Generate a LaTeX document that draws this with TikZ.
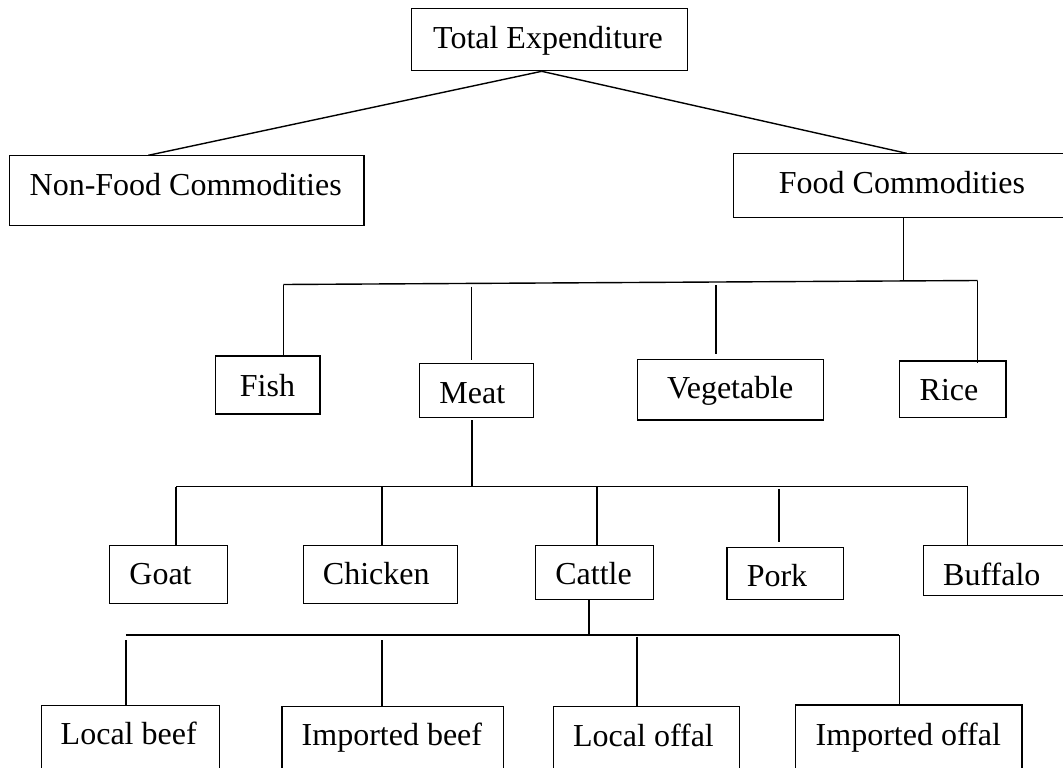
\documentclass[tikz,border=0pt]{standalone}
\usepackage{fontspec}
\setmainfont{Liberation Serif}
\usetikzlibrary{calc}
\begin{document}
\begin{tikzpicture}[x=1pt,y=-1pt,
  box/.style={draw=black,line width=1.1pt,rectangle,inner sep=0pt,outer sep=0pt},
  lbl/.style={inner sep=0pt,outer sep=0pt,anchor=base,font=\fontsize{32}{38}\selectfont},
  conn/.style={draw=black,line width=1.4pt}]
\useasboundingbox (0,0) rectangle (1063,768);
\fill[white] (0,0) rectangle (1063,768);
\clip (0,0) rectangle (1063,768);
% boxes
\node[box,minimum width=276pt,minimum height=62pt] (te) at (549.7,39.3) {};
\node[box,minimum width=354.7pt,minimum height=70.4pt] (nf) at (186.65,190.5) {};
\node[box,minimum width=330.7pt,minimum height=64pt] (fc) at (898.65,185.3) {};
\node[box,minimum width=104.7pt,minimum height=58pt] (fish) at (267.65,385) {};
\node[box,minimum width=114.4pt,minimum height=54pt] (meat) at (476.5,390.3) {};
\node[box,minimum width=186.4pt,minimum height=60.7pt] (veg) at (730.5,389.65) {};
\node[box,minimum width=106.7pt,minimum height=56.3pt] (rice) at (952.65,389.15) {};
\node[box,minimum width=118.4pt,minimum height=57.8pt] (goat) at (168.5,574.6) {};
\node[box,minimum width=154.4pt,minimum height=57.8pt] (chicken) at (380.5,574.6) {};
\node[box,minimum width=118.2pt,minimum height=54pt] (cattle) at (594.6,572.5) {};
\node[box,minimum width=116.8pt,minimum height=52pt] (pork) at (785.4,573.5) {};
\node[box,minimum width=140.3pt,minimum height=49.8pt] (buffalo) at (993.85,570.6) {};
\node[box,minimum width=178.5pt,minimum height=64.3pt] (lb) at (130.45,737.85) {};
\node[box,minimum width=221.7pt,minimum height=63.3pt] (ib) at (392.85,738.35) {};
\node[box,minimum width=185.9pt,minimum height=63.3pt] (lo) at (646.55,738.35) {};
\node[box,minimum width=226.7pt,minimum height=65pt] (io) at (908.65,737.5) {};
% labels
\node[lbl] (te-t) at (548,48.3) {Total Expenditure};
\node[lbl] (nf-t) at (185.7,195) {Non-Food Commodities};
\node[lbl] (fc-t) at (902,193.3) {Food Commodities};
\node[lbl] (fish-t) at (267.5,396) {Fish};
\node[lbl] (meat-t) at (472.3,403.3) {Meat};
\node[lbl] (veg-t) at (730.3,398.3) {Vegetable};
\node[lbl] (rice-t) at (949,400) {Rice};
\node[lbl] (goat-t) at (160.5,584) {Goat};
\node[lbl] (chicken-t) at (376.3,584) {Chicken};
\node[lbl] (cattle-t) at (593.6,584.3) {Cattle};
\node[lbl] (pork-t) at (777,586.7) {Pork};
\node[lbl] (buffalo-t) at (991.8,585) {Buffalo};
\node[lbl] (lb-t) at (128.7,744) {Local beef};
\node[lbl] (ib-t) at (391.9,745.7) {Imported beef};
\node[lbl] (lo-t) at (643.5,746) {Local offal};
\node[lbl] (io-t) at (908.3,745) {Imported offal};
% level 1 connectors
\draw[conn] ($(te.south)+(-8,1)$) -- ($(nf.north)+(-38.3,0)$);
\draw[conn] ($(te.south)+(-8,1)$) -- ($(fc.north)+(8,0)$);
% level 2
\coordinate (j1) at (903.7,280.3);
\coordinate (b1L) at (283.3,284.5);
\coordinate (b1R) at (977.5,280.5);
\coordinate (mt) at (471.7,286.7);
\coordinate (vt) at (716,285);
\draw[conn] (fc.south -| j1) -- (j1);
\draw[conn] (b1L) -- (b1R);
\draw[conn] (b1L) -- (b1L |- fish.north);
\draw[conn] (mt) -- ($(mt |- meat.north)+(0,-3.3)$);
\draw[conn] (vt) -- ($(vt |- veg.north)+(0,-5.3)$);
\draw[conn] (b1R) -- ($(b1R |- rice.north)+(0,2)$);
% level 3
\coordinate (j2) at (472,486.5);
\coordinate (b2L) at (176,486.5);
\coordinate (b2R) at (967.7,486.5);
\coordinate (chx) at (382,486.5);
\coordinate (cax) at (596.9,486.5);
\coordinate (pkt) at (779,489.3);
\draw[conn] ($(meat.south -| j2)+(0,2.7)$) -- (j2);
\draw[conn] (b2L) -- (b2R);
\draw[conn] (b2L) -- (b2L |- goat.north);
\draw[conn] (chx) -- (chx |- chicken.north);
\draw[conn] (cax) -- (cax |- cattle.north);
\draw[conn] (pkt) -- ($(pkt |- pork.north)+(0,-5.5)$);
\draw[conn] (b2R) -- (b2R |- buffalo.north);
% level 4
\coordinate (j3) at (588.9,635);
\coordinate (b3L) at (125.8,635);
\coordinate (b3R) at (899.2,635);
\coordinate (lbt) at (125.8,640);
\coordinate (ibt) at (382,640);
\coordinate (lot) at (637,636.7);
\draw[conn] (cattle.south -| j3) -- (j3);
\draw[conn] (b3L) -- (b3R);
\draw[conn] (lbt) -- (lbt |- lb.north);
\draw[conn] (ibt) -- (ibt |- ib.north);
\draw[conn] (lot) -- (lot |- lo.north);
\draw[conn] (b3R) -- (b3R |- io.north);
\end{tikzpicture}
\end{document}
